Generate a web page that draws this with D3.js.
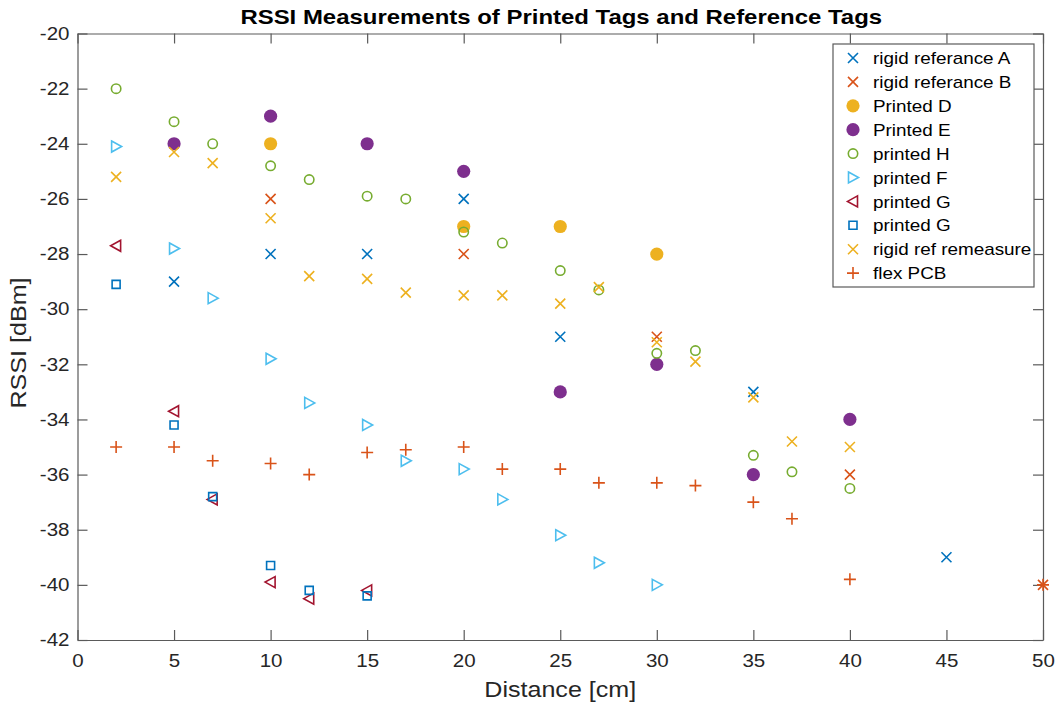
<!DOCTYPE html>
<html>
<head>
<meta charset="utf-8">
<script src="https://cdn.jsdelivr.net/npm/d3@7"></script>
<style>
  body { margin: 0; background: #fff; }
  svg { display: block; font-family: "Liberation Sans", Arial, Helvetica, sans-serif; }
</style>
</head>
<body>
<svg id="chart" width="1055" height="702"></svg>
<script>
// ---- Data ----
const xTicks = [0, 5, 10, 15, 20, 25, 30, 35, 40, 45, 50];
const yTicks = [-42, -40, -38, -36, -34, -32, -30, -28, -26, -24, -22, -20];

const distA = [5, 10, 15, 20, 25, 35, 45];
const rssiA = [-29, -28, -28, -26, -31, -33, -39];

const distB = [10, 20, 30, 40, 50];
const rssiB = [-26, -28, -31, -36, -40];

const distD = [10, 20, 25, 30];
const rssiD = [-24, -27, -27, -28];

const distE = [5, 10, 15, 20, 25, 30, 35, 40];
const rssiE = [-24, -23, -24, -25, -33, -32, -36, -34];

const distH = [2, 5, 7, 10, 12, 15, 17, 20, 22, 25, 27, 30, 32, 35, 37, 40];
const rssiH = [-22, -23.2, -24, -24.8, -25.3, -25.9, -26, -27.2, -27.6, -28.6, -29.3, -31.6, -31.5, -35.3, -35.9, -36.5];

const distF = [2, 5, 7, 10, 12, 15, 17, 20, 22, 25, 27, 30];
const rssiF = [-24.1, -27.8, -29.6, -31.8, -33.4, -34.2, -35.5, -35.8, -36.9, -38.2, -39.2, -40];

const distGTri = [2, 5, 7, 10, 12, 15];
const rssiGTri = [-27.7, -33.7, -36.9, -39.9, -40.5, -40.2];

const distGSq = [2, 5, 7, 10, 12, 15];
const rssiGSq = [-29.1, -34.2, -36.8, -39.3, -40.2, -40.4];

const distRemeasure = [2, 5, 7, 10, 12, 15, 17, 20, 22, 25, 27, 30, 32, 35, 37, 40];
const rssiRemeasure = [-25.2, -24.3, -24.7, -26.7, -28.8, -28.9, -29.4, -29.5, -29.5, -29.8, -29.2, -31.2, -31.9, -33.2, -34.8, -35];

const distFlex = [2, 5, 7, 10, 12, 15, 17, 20, 22, 25, 27, 30, 32, 35, 37, 40, 50];
const rssiFlex = [-35, -35, -35.5, -35.6, -36, -35.2, -35.1, -35, -35.8, -35.8, -36.3, -36.3, -36.4, -37, -37.6, -39.8, -40];

const seriesNames = ["rigid referance A", "rigid referance B", "Printed D", "Printed E", "printed H",
  "printed F", "printed G", "printed G", "rigid ref remeasure", "flex PCB"];
const seriesMarkers = ["x", "x", "dot", "dot", "circle", "triRight", "triLeft", "square", "x", "plus"];
const seriesColors = ["#0072BD", "#D95319", "#EDB120", "#7E2F8E", "#77AC30", "#4DBEEE", "#A2142F", "#0072BD", "#EDB120", "#D95319"];
const seriesX = [distA, distB, distD, distE, distH, distF, distGTri, distGSq, distRemeasure, distFlex];
const seriesY = [rssiA, rssiB, rssiD, rssiE, rssiH, rssiF, rssiGTri, rssiGSq, rssiRemeasure, rssiFlex];

// ---- Layout ----
const svg = d3.select("#chart");
const pLeft = 77.5, pRight = 1043, pTop = 33.5, pBottom = 640;
const x = d3.scaleLinear().domain([0, 50]).range([pLeft, pRight]);
const y = d3.scaleLinear().domain([-42, -20]).range([pBottom, pTop]);
const axisColor = "#5a5a5a";
const textColor = "#262626";

// horizontally widen text glyphs (the reference font is wider than Arial)
function stretch(sel, factor = 1.14) {
  sel.each(function () {
    const w = this.getComputedTextLength();
    d3.select(this).attr("textLength", w * factor).attr("lengthAdjust", "spacingAndGlyphs");
  });
}

// Marker drawing
function markerPath(type) {
  const s = 5;
  switch (type) {
    case "x": return `M${-s},${-s}L${s},${s}M${-s},${s}L${s},${-s}`;
    case "plus": return `M-6,0L6,0M0,-6L0,6`;
    case "triRight": return `M-4.5,-5.5L5.5,0L-4.5,5.5Z`;
    case "triLeft": return `M4.5,-5.5L-5.5,0L4.5,5.5Z`;
    case "square": return `M-4,-4L4,-4L4,4L-4,4Z`;
    default: return null;
  }
}
function drawMarker(g, type, color) {
  if (type === "dot") {
    g.append("circle").attr("r", 6.6).attr("fill", color);
  } else if (type === "circle") {
    g.append("circle").attr("r", 4.7).attr("fill", "none").attr("stroke", color).attr("stroke-width", 1.6);
  } else {
    g.append("path").attr("d", markerPath(type)).attr("fill", "none")
      .attr("stroke", color).attr("stroke-width", 1.6).attr("stroke-linejoin", "miter");
  }
}

// Axes
function styleAxis(g) {
  g.selectAll(".domain").attr("stroke", axisColor).attr("stroke-width", 1.2);
  g.selectAll(".tick line").attr("stroke", axisColor).attr("stroke-width", 1.2);
  g.selectAll(".tick text").attr("fill", textColor).style("font-size", "18px")
    .style("font-family", '"Liberation Sans", Arial, sans-serif')
    .call(stretch);
}
const fmt = d => String(d);
svg.append("g").attr("transform", `translate(0,${pBottom})`)
  .call(d3.axisBottom(x).tickValues(xTicks).tickFormat(fmt).tickSizeInner(-10).tickSizeOuter(0).tickPadding(14))
  .call(styleAxis);
svg.append("g").attr("transform", `translate(0,${pTop})`)
  .call(d3.axisTop(x).tickValues(xTicks).tickSizeInner(-10).tickSizeOuter(0).tickFormat(""))
  .call(styleAxis);
svg.append("g").attr("transform", `translate(${pLeft},0)`)
  .call(d3.axisLeft(y).tickValues(yTicks).tickFormat(fmt).tickSizeInner(-10).tickSizeOuter(0).tickPadding(8))
  .call(styleAxis);
svg.append("g").attr("transform", `translate(${pRight},0)`)
  .call(d3.axisRight(y).tickValues(yTicks).tickSizeInner(-10).tickSizeOuter(0).tickFormat(""))
  .call(styleAxis);

// Points
seriesNames.forEach((name, i) => {
  const g = svg.append("g");
  seriesX[i].forEach((d, j) => {
    const m = g.append("g").attr("transform", `translate(${x(d)},${y(seriesY[i][j])})`);
    drawMarker(m, seriesMarkers[i], seriesColors[i]);
  });
});

// Title and labels
svg.append("text").attr("x", (pLeft + pRight) / 2 + 1).attr("y", 24).attr("text-anchor", "middle")
  .style("font-size", "21px").style("font-weight", "bold").attr("fill", "#000")
  .text("RSSI Measurements of Printed Tags and Reference Tags").call(stretch);
svg.append("text").attr("x", (pLeft + pRight) / 2).attr("y", 697).attr("text-anchor", "middle")
  .style("font-size", "22px").attr("fill", textColor).text("Distance [cm]").call(stretch);
svg.append("text").attr("transform", `translate(26,343) rotate(-90)`)
  .attr("text-anchor", "middle").style("font-size", "22px").attr("fill", textColor).text("RSSI [dBm]").call(stretch);

// Legend
const lgX = 833, lgY = 44, lgW = 201, rowH = 23.9;
const lg = svg.append("g");
lg.append("rect").attr("x", lgX).attr("y", lgY).attr("width", lgW).attr("height", rowH * seriesNames.length + 4)
  .attr("fill", "#fff").attr("stroke", axisColor).attr("stroke-width", 1.2);
seriesNames.forEach((name, i) => {
  const cy = lgY + 14 + i * rowH;
  const m = lg.append("g").attr("transform", `translate(${lgX + 20},${cy})`);
  drawMarker(m, seriesMarkers[i], seriesColors[i]);
  lg.append("text").attr("x", lgX + 40).attr("y", cy).attr("dy", "0.36em")
    .style("font-size", "17px").attr("fill", "#000").text(name).call(stretch, 1.11);
});
</script>
</body>
</html>
